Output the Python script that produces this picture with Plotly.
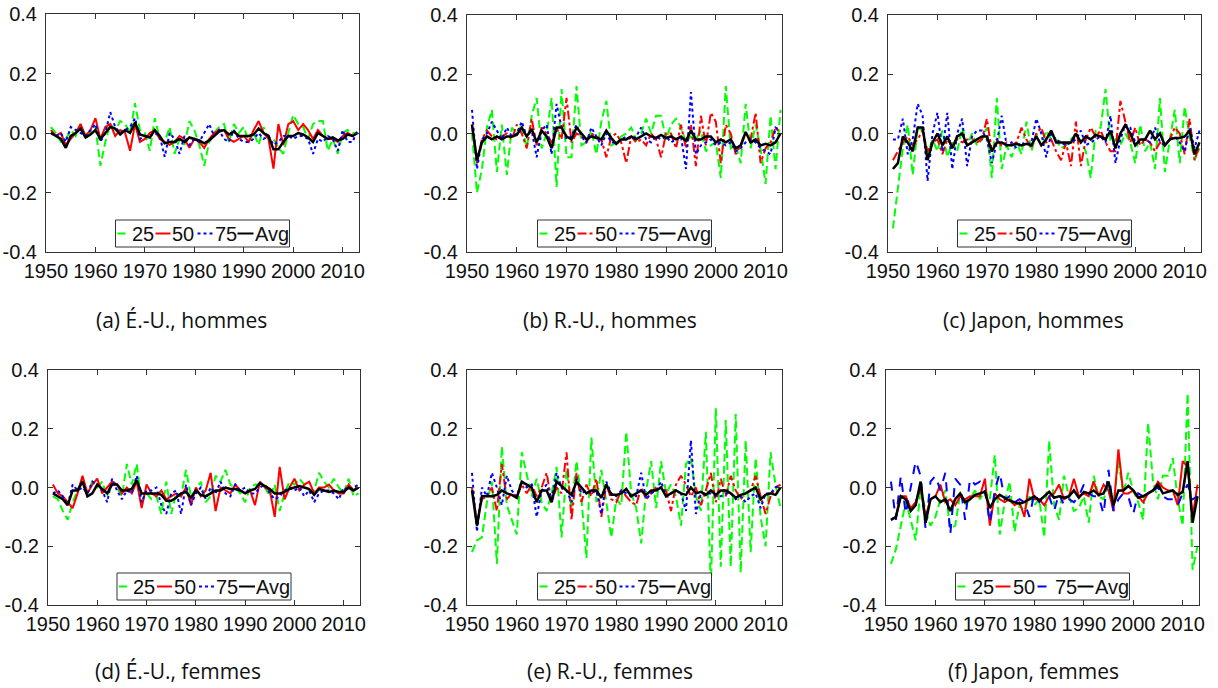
import plotly.graph_objects as go

# ---------------- data ----------------
years = list(range(1951, 2014))
series_names = ["25", "50", "75", "Avg"]
x_tickvals = [1950, 1960, 1970, 1980, 1990, 2000, 2010]
x_ticktext = ["1950", "1960", "1970", "1980", "1990", "2000", "2010"]
y_tickvals = [-0.4, -0.2, 0.0, 0.2, 0.4]
y_ticktext = ["-0.4", "-0.2", "0.0", "0.2", "0.4"]
captions = ["(a) É.-U., hommes", "(b) R.-U., hommes", "(c) Japon, hommes",
            "(d) É.-U., femmes", "(e) R.-U., femmes", "(f) Japon, femmes"]

# (a) US men
a_25 = [0.02, 0.00, -0.03, -0.02, 0.01, -0.01, 0.03, -0.02, 0.00, 0.02,
        -0.11, -0.03, 0.03, 0.01, 0.04, 0.03, 0.00, 0.10, 0.01, 0.00,
        -0.06, 0.05, -0.02, -0.03, 0.02, -0.07, -0.02, -0.04, 0.04, 0.01,
        -0.04, -0.11, -0.03, 0.00, 0.02, 0.03, -0.03, 0.03, 0.00, 0.02,
        -0.03, 0.00, -0.04, 0.02, -0.02, -0.02, -0.05, -0.07, 0.00, 0.06,
        0.03, 0.02, -0.02, 0.03, 0.04, 0.04, -0.06, -0.02, -0.07, 0.00,
        0.01, 0.00, 0.00]
a_50 = [0.01, -0.01, 0.00, -0.04, -0.02, 0.00, 0.03, -0.01, 0.01, 0.05,
        -0.02, 0.02, 0.03, -0.01, 0.01, 0.00, -0.06, 0.03, -0.03, -0.02,
        0.00, 0.01, -0.02, -0.03, -0.04, -0.03, -0.01, -0.02, -0.05, -0.02,
        -0.03, -0.05, -0.02, 0.00, 0.01, 0.01, -0.02, -0.03, -0.02, -0.01,
        -0.03, 0.01, 0.04, 0.00, -0.02, -0.12, 0.03, -0.04, 0.03, 0.04,
        0.01, 0.03, 0.01, -0.02, 0.01, -0.01, -0.02, -0.02, -0.03, -0.01,
        0.00, -0.01, 0.00]
a_75 = [0.00, -0.01, 0.00, -0.03, 0.02, 0.01, 0.00, -0.01, 0.01, 0.03,
        -0.03, 0.00, 0.07, 0.02, 0.00, 0.01, 0.02, 0.05, -0.02, -0.01,
        -0.01, 0.00, -0.01, -0.08, 0.00, -0.02, -0.07, -0.01, -0.04, -0.02,
        -0.03, 0.00, 0.03, -0.01, 0.01, -0.02, -0.03, 0.01, -0.02, -0.03,
        -0.03, -0.02, 0.00, -0.02, -0.01, -0.04, -0.03, -0.01, -0.01, -0.02,
        -0.01, -0.01, -0.02, -0.07, -0.02, -0.03, -0.01, -0.02, -0.06, 0.01,
        -0.03, -0.03, 0.01]
a_avg = [0.00, -0.01, -0.02, -0.05, -0.01, 0.00, 0.015, -0.015, -0.005, 0.01,
         -0.02, 0.00, 0.02, 0.015, -0.005, 0.01, 0.00, 0.035, -0.005, -0.01,
         -0.015, 0.01, -0.01, -0.035, -0.03, -0.03, -0.02, -0.03, -0.015, -0.02,
         -0.025, -0.035, -0.025, -0.01, 0.005, 0.01, -0.005, 0.005, -0.01, -0.01,
         -0.01, -0.005, 0.015, 0.00, -0.01, -0.055, -0.055, -0.03, -0.01, -0.01,
         0.00, -0.005, -0.015, -0.03, 0.00, -0.01, -0.02, -0.015, -0.025, -0.02,
         -0.005, -0.01, 0.00]

# (b) UK men
b_25 = [0.00, -0.20, -0.12, 0.02, 0.08, -0.13, 0.03, -0.14, 0.02, 0.00,
        0.03, -0.05, 0.06, 0.12, -0.05, 0.00, 0.12, -0.18, 0.15, -0.08,
        -0.08, 0.16, -0.04, -0.03, 0.01, -0.07, 0.04, 0.11, -0.04, -0.03,
        -0.01, 0.00, 0.02, -0.02, 0.00, 0.05, 0.00, 0.06, 0.06, -0.02,
        0.03, 0.05, 0.02, -0.03, -0.01, -0.02, 0.01, -0.06, -0.04, -0.03,
        -0.15, 0.16, -0.05, -0.04, -0.10, 0.10, -0.05, 0.03, -0.05, -0.17,
        0.06, -0.12, 0.08]
b_50 = [0.03, -0.10, -0.02, 0.01, -0.01, -0.02, -0.01, 0.00, -0.02, 0.03,
        0.00, -0.05, 0.05, -0.04, 0.02, 0.00, -0.03, 0.02, -0.02, 0.12,
        -0.03, 0.00, -0.01, -0.03, 0.00, -0.01, -0.02, -0.08, -0.01, 0.00,
        -0.03, -0.10, -0.01, -0.03, -0.02, -0.04, 0.00, -0.02, -0.08, 0.00,
        0.00, -0.05, 0.03, -0.05, 0.03, -0.11, 0.06, -0.04, 0.07, 0.04,
        -0.10, 0.03, 0.00, -0.07, -0.04, 0.00, -0.02, 0.07, -0.10, -0.05,
        -0.03, 0.02, 0.00]
b_75 = [0.08, -0.12, -0.02, 0.00, 0.04, 0.01, -0.02, 0.02, -0.01, 0.00,
        0.04, -0.01, 0.01, -0.08, 0.01, 0.03, -0.07, 0.10, 0.02, -0.02,
        -0.01, 0.03, -0.01, -0.03, 0.02, -0.01, -0.04, 0.00, -0.03, -0.03,
        -0.02, -0.01, -0.02, -0.01, 0.02, -0.02, -0.03, -0.01, -0.02, -0.01,
        -0.03, -0.02, -0.01, -0.12, 0.14, -0.07, -0.04, -0.03, -0.02, -0.04,
        -0.03, -0.04, -0.03, -0.06, -0.05, -0.03, -0.02, -0.03, -0.05, -0.06,
        -0.07, 0.02, 0.01]
b_avg = [0.03, -0.09, -0.03, -0.01, -0.02, -0.01, -0.02, -0.01, -0.01, -0.005,
         0.02, -0.01, 0.015, -0.03, 0.01, -0.01, -0.05, 0.02, 0.02, -0.01,
         -0.02, 0.02, 0.00, -0.02, -0.01, -0.015, -0.02, 0.01, -0.015, -0.035,
         -0.02, -0.02, -0.01, -0.02, -0.01, 0.00, -0.01, -0.015, -0.005, -0.015,
         -0.01, -0.02, -0.01, -0.025, 0.01, -0.02, -0.02, -0.01, -0.01, -0.03,
         -0.02, -0.03, -0.02, -0.05, -0.04, 0.005, -0.03, -0.02, -0.04, -0.035,
         -0.04, -0.03, 0.00]

# (c) Japan men
c_25 = [-0.32, -0.18, -0.05, 0.03, -0.14, 0.02, 0.01, -0.07, -0.02, -0.06,
        0.01, -0.08, -0.03, -0.06, 0.02, -0.04, 0.00, -0.04, -0.02, 0.02,
        -0.15, 0.12, -0.12, -0.04, -0.08, -0.03, -0.07, 0.04, -0.06, 0.00,
        -0.04, 0.01, -0.02, -0.02, -0.05, -0.04, -0.02, 0.00, -0.03, -0.06,
        -0.15, 0.01, 0.02, 0.15, -0.03, -0.02, -0.04, 0.00, -0.03, -0.10,
        0.03, -0.06, -0.03, -0.12, 0.12, -0.13, -0.02, 0.08, -0.10, 0.09,
        -0.01, -0.09, -0.05]
c_50 = [-0.09, -0.06, -0.03, -0.01, -0.04, -0.02, 0.01, -0.06, -0.03, -0.02,
        -0.07, -0.02, -0.04, -0.02, -0.03, -0.02, -0.02, -0.03, -0.02, 0.05,
        -0.06, -0.02, -0.04, -0.03, -0.04, -0.03, 0.02, -0.02, -0.05, 0.00,
        0.02, -0.03, -0.02, -0.06, -0.09, -0.03, -0.11, 0.04, -0.11, -0.02,
        0.02, -0.01, 0.01, -0.03, -0.06, -0.06, 0.11, 0.04, -0.03, 0.02,
        -0.04, -0.02, -0.03, -0.06, -0.03, -0.04, -0.02, 0.02, 0.00, -0.07,
        0.05, -0.09, -0.04]
c_75 = [-0.02, -0.02, 0.05, -0.07, -0.02, 0.10, 0.06, -0.16, 0.00, 0.07,
        -0.06, 0.07, -0.12, 0.00, 0.05, -0.11, -0.01, 0.01, 0.01, -0.02,
        -0.10, -0.03, 0.06, -0.04, -0.03, -0.05, -0.03, -0.04, -0.03, 0.05,
        0.00, -0.08, 0.00, -0.02, -0.03, -0.04, -0.03, -0.02, 0.01, -0.04,
        -0.03, -0.02, -0.01, -0.03, 0.06, -0.10, -0.02, 0.03, 0.02, -0.03,
        -0.03, -0.02, -0.03, 0.02, -0.03, -0.04, -0.02, -0.01, -0.03, -0.06,
        0.02, -0.05, 0.01]
c_avg = [-0.12, -0.10, -0.01, -0.03, -0.06, 0.02, 0.02, -0.09, -0.03, 0.00,
         -0.04, -0.01, -0.05, -0.01, 0.00, -0.04, -0.03, -0.02, -0.01, -0.01,
         -0.06, -0.03, -0.03, -0.04, -0.04, -0.035, -0.04, -0.035, -0.04, -0.01,
         -0.04, -0.02, 0.01, -0.03, -0.03, -0.03, -0.03, 0.00, -0.03, -0.01,
         -0.02, -0.005, -0.01, -0.02, 0.01, -0.05, 0.00, 0.03, 0.00, -0.04,
         -0.02, -0.02, 0.01, -0.02, 0.00, -0.04, -0.02, -0.015, -0.015, -0.01,
         0.01, -0.07, -0.03]

# (d) US women
d_25 = [-0.03, -0.04, -0.08, -0.11, -0.05, -0.01, 0.03, -0.02, 0.02, 0.00,
        0.02, -0.03, 0.02, 0.00, -0.03, 0.08, 0.01, 0.08, -0.05, -0.02,
        -0.04, -0.03, -0.09, 0.02, -0.09, -0.02, -0.03, 0.06, -0.03, -0.01,
        0.02, -0.05, -0.03, 0.04, 0.02, 0.06, 0.01, 0.00, -0.02, -0.05,
        0.00, 0.01, 0.01, 0.00, -0.03, 0.01, -0.08, -0.02, 0.02, 0.01,
        0.03, 0.01, -0.01, -0.01, 0.05, 0.02, 0.00, 0.03, 0.00, -0.02,
        0.03, -0.03, -0.02]
d_50 = [0.01, -0.02, -0.03, -0.05, -0.07, -0.02, 0.04, -0.02, 0.01, 0.03,
        -0.02, 0.00, 0.02, 0.01, -0.02, 0.00, -0.02, 0.02, -0.07, 0.01,
        -0.02, -0.03, -0.01, -0.04, -0.03, -0.02, -0.03, 0.00, -0.06, 0.00,
        -0.03, -0.01, 0.05, -0.08, 0.00, -0.01, -0.02, 0.01, -0.01, -0.02,
        -0.01, -0.06, 0.02, 0.00, -0.01, -0.10, 0.07, -0.04, 0.00, 0.03,
        -0.01, 0.01, 0.02, -0.02, 0.00, 0.00, 0.01, -0.01, -0.02, -0.02,
        0.01, -0.01, 0.00]
d_75 = [-0.02, -0.01, -0.03, -0.06, 0.01, -0.01, 0.00, -0.02, 0.02, 0.01,
        -0.01, -0.05, 0.03, -0.01, -0.04, -0.01, -0.02, 0.04, -0.05, -0.01,
        -0.01, 0.00, -0.06, -0.09, -0.02, -0.01, -0.09, 0.01, -0.06, -0.02,
        0.00, -0.04, 0.00, -0.02, 0.02, -0.02, -0.03, 0.01, -0.01, 0.00,
        -0.02, -0.02, 0.00, 0.01, -0.02, -0.04, -0.03, -0.01, 0.00, -0.01,
        0.00, -0.03, -0.01, -0.05, -0.02, -0.01, -0.01, -0.02, -0.04, 0.00,
        -0.01, 0.00, 0.01]
d_avg = [-0.02, -0.03, -0.04, -0.06, -0.01, -0.01, 0.02, -0.03, -0.02, 0.01,
         -0.005, -0.02, 0.01, 0.01, -0.01, -0.01, -0.005, 0.025, -0.02, -0.02,
         -0.02, -0.02, -0.025, -0.045, -0.045, -0.035, -0.02, -0.015, -0.035, -0.01,
         -0.025, -0.03, -0.02, -0.01, -0.01, 0.00, -0.005, -0.005, -0.01, -0.02,
         -0.01, -0.005, 0.015, 0.005, -0.005, -0.02, -0.02, -0.015, -0.005, 0.00,
         0.005, 0.00, -0.005, -0.025, -0.005, -0.01, -0.015, -0.01, -0.015, -0.015,
         0.00, -0.01, 0.00]

# (e) UK women
e_25 = [-0.22, -0.18, -0.17, -0.05, 0.02, -0.26, 0.14, -0.06, -0.11, -0.16,
        0.12, 0.04, -0.03, 0.03, -0.05, -0.08, -0.02, 0.07, -0.17, 0.06,
        -0.07, 0.09, -0.04, -0.24, 0.17, -0.05, 0.06, -0.05, -0.17, -0.04,
        -0.06, 0.19, -0.02, -0.07, -0.19, -0.01, 0.09, -0.07, 0.09, -0.02,
        0.01, -0.03, -0.13, 0.08, 0.10, -0.03, -0.08, 0.19, -0.34, 0.27,
        -0.27, 0.23, -0.27, 0.25, -0.29, 0.16, -0.22, 0.10, -0.10, -0.20,
        0.12, 0.01, -0.07]
e_50 = [0.00, -0.12, -0.04, -0.03, 0.00, -0.08, 0.08, -0.04, -0.02, -0.03,
        0.01, -0.02, 0.01, -0.03, 0.00, 0.05, -0.05, 0.00, -0.02, 0.12,
        -0.11, 0.05, -0.05, 0.01, -0.03, 0.03, -0.10, 0.01, -0.04, -0.05,
        -0.01, -0.03, -0.05, -0.06, 0.00, -0.04, -0.02, 0.00, 0.00, -0.01,
        -0.08, 0.01, 0.04, 0.01, -0.03, 0.00, -0.06, -0.01, 0.05, -0.05,
        0.03, -0.03, 0.04, -0.01, -0.04, -0.02, -0.01, 0.04, -0.03, -0.09,
        -0.03, 0.00, 0.01]
e_75 = [0.05, -0.15, 0.00, -0.03, 0.05, 0.00, -0.06, 0.04, -0.01, -0.03,
        0.02, 0.00, 0.01, -0.10, -0.01, 0.01, -0.04, 0.05, 0.00, -0.01,
        -0.05, 0.03, -0.02, -0.01, -0.02, -0.01, -0.09, 0.02, -0.02, -0.03,
        -0.01, -0.02, -0.03, -0.03, 0.05, -0.04, -0.02, -0.01, 0.02, -0.03,
        -0.02, -0.01, -0.02, -0.08, 0.16, -0.09, -0.02, -0.02, -0.02, -0.03,
        -0.03, -0.02, -0.02, -0.04, -0.03, -0.05, -0.03, -0.02, -0.07, -0.02,
        -0.02, 0.00, 0.01]
e_avg = [-0.01, -0.13, -0.03, -0.03, -0.03, -0.025, -0.01, -0.02, -0.025, -0.035,
         0.02, 0.01, 0.00, -0.05, -0.01, -0.01, -0.05, 0.02, 0.005, -0.01,
         -0.025, 0.02, 0.00, -0.02, -0.01, -0.01, -0.035, 0.01, -0.025, -0.025,
         -0.02, -0.005, -0.03, -0.02, -0.01, -0.025, -0.01, -0.01, 0.00, -0.03,
         -0.02, -0.01, -0.02, -0.025, 0.00, -0.02, -0.015, -0.025, -0.01, -0.025,
         -0.01, -0.01, -0.02, -0.035, -0.025, -0.02, -0.01, 0.00, -0.04, -0.025,
         -0.02, -0.025, 0.00]

# (f) Japan women
f_25 = [-0.26, -0.21, -0.13, -0.05, -0.11, -0.18, 0.00, -0.08, -0.13, -0.10,
        -0.04, -0.01, -0.14, -0.13, -0.02, -0.06, -0.04, -0.01, -0.04, -0.01,
        -0.04, 0.11, -0.16, -0.05, 0.02, -0.15, -0.06, -0.08, -0.03, -0.06,
        -0.04, -0.17, 0.16, -0.06, -0.11, 0.04, -0.03, -0.08, -0.07, -0.03,
        -0.12, 0.04, -0.03, -0.04, 0.01, -0.06, 0.09, -0.02, 0.05, -0.01,
        -0.05, -0.11, 0.22, 0.02, -0.04, 0.04, 0.04, 0.10, -0.04, -0.13,
        0.32, -0.28, -0.20]
f_50 = [-0.11, -0.10, -0.03, -0.03, -0.07, -0.05, 0.00, -0.10, -0.04, -0.03,
        0.01, -0.05, -0.04, -0.06, -0.03, -0.04, -0.03, -0.03, -0.03, 0.03,
        -0.13, -0.02, -0.04, -0.05, -0.04, -0.06, -0.05, -0.10, 0.03, -0.04,
        -0.04, -0.06, -0.03, -0.02, 0.01, -0.04, -0.03, 0.03, -0.03, -0.02,
        -0.03, 0.02, -0.03, 0.01, -0.01, -0.08, 0.13, -0.02, -0.02, -0.01,
        -0.03, -0.05, -0.02, -0.01, 0.02, 0.00, -0.01, -0.01, -0.06, 0.09,
        0.07, -0.10, 0.01]
f_75 = [0.02, -0.11, 0.04, -0.09, 0.00, 0.09, 0.04, -0.14, 0.02, 0.04,
        -0.01, 0.05, -0.16, 0.03, 0.01, -0.11, 0.03, 0.01, 0.02, -0.01,
        -0.12, -0.01, 0.05, -0.04, -0.03, -0.05, -0.04, -0.05, -0.10, -0.02,
        -0.05, -0.03, -0.03, -0.08, -0.02, -0.06, -0.04, -0.05, -0.03, 0.01,
        -0.02, -0.03, -0.03, -0.09, 0.06, -0.08, -0.04, -0.02, -0.03, -0.09,
        -0.02, -0.03, -0.02, -0.01, 0.00, -0.03, -0.04, -0.04, -0.06, -0.02,
        0.01, -0.04, -0.03]
f_avg = [-0.11, -0.10, -0.03, -0.04, -0.08, -0.06, 0.02, -0.12, -0.04, -0.03,
         -0.05, -0.04, -0.08, -0.04, -0.02, -0.05, -0.04, -0.025, -0.02, -0.015,
         -0.07, -0.04, -0.025, -0.035, -0.045, -0.05, -0.055, -0.05, -0.04, -0.03,
         -0.045, -0.03, -0.015, -0.035, -0.03, -0.035, -0.03, -0.01, -0.035, -0.015,
         -0.02, -0.01, -0.025, -0.02, 0.02, -0.06, -0.01, -0.01, 0.005, -0.01,
         -0.035, -0.03, -0.02, -0.01, 0.01, -0.02, -0.015, -0.01, -0.025, -0.015,
         0.09, -0.12, -0.03]

panel_data = [(a_25, a_50, a_75, a_avg), (b_25, b_50, b_75, b_avg),
              (c_25, c_50, c_75, c_avg), (d_25, d_50, d_75, d_avg),
              (e_25, e_50, e_75, e_avg), (f_25, f_50, f_75, f_avg)]
for p, group in enumerate(panel_data):
    for s, arr in enumerate(group):
        assert len(arr) == len(years), (p, s, len(arr))

# ---------------- geometry / style ----------------
FW, FH = 1218, 688


def px(x):
    return x / FW


def py(y):
    return 1 - y / FH


# plot-area boxes in window pixels: left, right, top, bottom
boxes = [(46, 359, 14, 252), (467, 782, 15, 252), (888, 1201, 15, 252),
         (48, 360, 370, 605), (467, 782, 370, 605), (886, 1199, 370, 605)]
caption_pos = [(181, 320), (610, 320), (1033, 320),
               (178, 671), (610, 671), (1033, 671)]
red_dash = ["solid", "dashdot", "dashdot", "solid", "dashdot", "solid"]
blue_dash = ["dot", "dot", "dot", "dot", "dot", "dash"]
colors = ["#00ff00", "#ff0000", "#0000ff", "#000000"]
widths = [2, 2, 2, 2.5]
GREEN_DASH = "8px,4px"

# legend layout (pixels relative to the legend box's left edge)
LEG_W, LEG_TOP, LEG_BOT = 174, 32, 5          # width; top/bottom above axis bottom
LEG_SAMPLES = [(2, 12), (40, 55), (82, 98), (122, 138)]
LEG_TEXT_X = [16, 57, 99, 139]

AX = "#333333"
FONT = "Liberation Sans, Arial, sans-serif"
TICKFONT = dict(family=FONT, size=20, color="#111111")

fig = go.Figure()
layout = dict(width=FW, height=FH,
              margin=dict(l=0, r=0, t=0, b=0, autoexpand=False),
              paper_bgcolor="white", plot_bgcolor="white",
              showlegend=False, annotations=[], shapes=[])

for i, (group, box) in enumerate(zip(panel_data, boxes)):
    n = "" if i == 0 else str(i + 1)
    dashes = [GREEN_DASH, red_dash[i], blue_dash[i], "solid"]
    for s, arr in enumerate(group):
        fig.add_trace(go.Scatter(
            x=years, y=arr, mode="lines", name=series_names[s],
            line=dict(color=colors[s], width=widths[s], dash=dashes[s]),
            xaxis="x" + n, yaxis="y" + n))
    l, r, t, b = box
    layout["xaxis" + n] = dict(
        domain=[px(l), px(r)], anchor="y" + n, range=[1950, 2013.3],
        tickmode="array", tickvals=x_tickvals, ticktext=x_ticktext,
        ticks="inside", ticklen=5, tickcolor=AX, tickwidth=1,
        showline=True, linecolor=AX, linewidth=1, mirror="ticks",
        showgrid=False, zeroline=False, tickfont=TICKFONT,
        ticklabelstandoff=1, automargin=False)
    layout["yaxis" + n] = dict(
        domain=[py(b), py(t)], anchor="x" + n, range=[-0.4, 0.4],
        tickmode="array", tickvals=y_tickvals, ticktext=y_ticktext,
        ticks="inside", ticklen=5, tickcolor=AX, tickwidth=1,
        showline=True, linecolor=AX, linewidth=1, mirror="ticks",
        showgrid=False, zeroline=False, tickfont=TICKFONT,
        ticklabelstandoff=4, automargin=False)

    # in-panel legend (box, line samples, labels) in axis-domain coordinates
    pw, ph = r - l, b - t
    bl = (l + r) / 2 - LEG_W / 2 - l
    xd, yd = "x" + n + " domain", "y" + n + " domain"
    y0, y1 = LEG_BOT / ph, LEG_TOP / ph
    ym = (y0 + y1) / 2
    layout["shapes"].append(dict(
        type="rect", xref=xd, yref=yd, x0=bl / pw, x1=(bl + LEG_W) / pw,
        y0=y0, y1=y1, fillcolor="white", line=dict(color=AX, width=1),
        layer="above"))
    for s in range(4):
        sx0, sx1 = LEG_SAMPLES[s]
        layout["shapes"].append(dict(
            type="line", xref=xd, yref=yd, x0=(bl + sx0) / pw, x1=(bl + sx1) / pw,
            y0=ym, y1=ym, layer="above",
            line=dict(color=colors[s], width=2, dash=dashes[s] if s < 3 else "solid")))
        layout["annotations"].append(dict(
            text=series_names[s], xref=xd, yref=yd, x=(bl + LEG_TEXT_X[s]) / pw, y=ym,
            xanchor="left", yanchor="middle", showarrow=False, borderpad=0,
            xshift=-1, font=dict(family=FONT, size=20, color="#111111")))

    cx, cy = caption_pos[i]
    layout["annotations"].append(dict(
        text=captions[i], x=px(cx), y=py(cy), xref="paper", yref="paper",
        xanchor="center", yanchor="middle", showarrow=False,
        font=dict(family="Open Sans, Noto Sans, sans-serif", size=21, color="#111111")))

fig.update_layout(**layout)
# remove the browser's default page margin so the figure fills the window exactly
fig.write_html("out.html",
               config={"displayModeBar": False},
               post_script="document.body.style.margin='0';document.body.style.overflow='hidden';")
